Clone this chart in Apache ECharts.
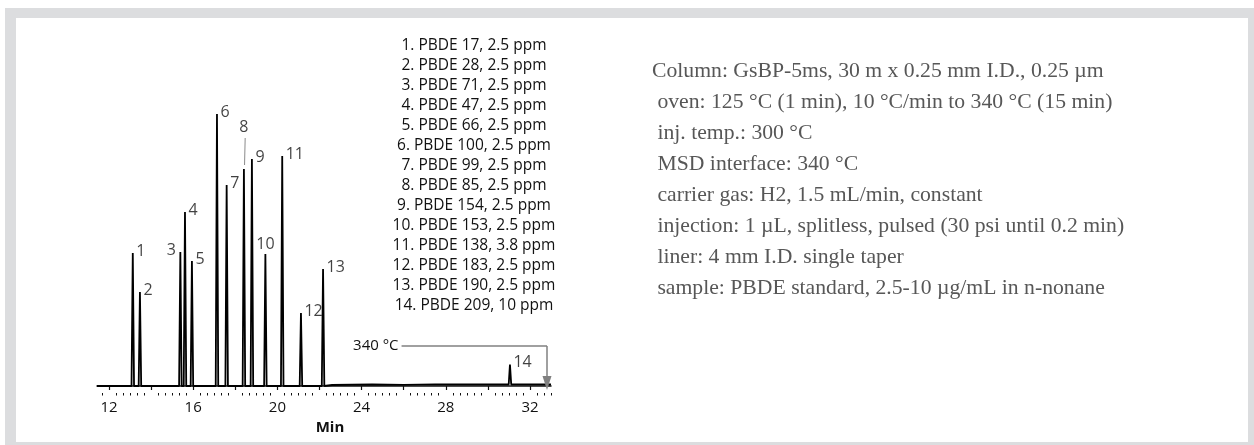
<!DOCTYPE html>
<html><head><meta charset="utf-8">
<script src="https://cdn.jsdelivr.net/npm/echarts@6/dist/echarts.min.js"></script>
<style>html,body{margin:0;padding:0;background:#fff}#c{width:1254px;height:445px}</style>
</head><body><div id="c"></div>
<script>
// ---------------- data ----------------
const peakNumbers = [1, 2, 3, 4, 5, 6, 7, 8, 9, 10, 11, 12, 13, 14];
const peakTimes = [13.13, 13.47, 15.39, 15.61, 15.94, 17.13, 17.59, 18.41, 18.79, 19.43, 20.23, 21.12, 22.17, 31.05];
const peakHeights = [133, 94, 134, 174, 125, 272, 201, 217, 227, 132, 230, 73, 117, 20];
const compounds = ['PBDE 17', 'PBDE 28', 'PBDE 71', 'PBDE 47', 'PBDE 66', 'PBDE 100', 'PBDE 99',
  'PBDE 85', 'PBDE 154', 'PBDE 153', 'PBDE 138', 'PBDE 183', 'PBDE 190', 'PBDE 209'];
const concentrations = ['2.5 ppm', '2.5 ppm', '2.5 ppm', '2.5 ppm', '2.5 ppm', '2.5 ppm', '2.5 ppm',
  '2.5 ppm', '2.5 ppm', '2.5 ppm', '3.8 ppm', '2.5 ppm', '2.5 ppm', '10 ppm'];
const baselinePoints = [[11.43, 0], [22.3, 0], [22.6, 1], [24.5, 1.5], [26.0, 1.2], [27.5, 1.6], [30.5, 1.5], [33.0, 1.5]];
const xTickValues = [12, 14, 16, 18, 20, 22, 24, 26, 28, 30, 32];
const xLabelValues = [12, 16, 20, 24, 28, 32];
const xMin = 11.43, xMax = 33.0;
const isoTempLabel = '340 °C';
const isoStart = 25.9, isoEnd = 32.81, isoLevel = 40;
const conditions = [
  'Column: GsBP-5ms, 30 m x 0.25 mm I.D., 0.25 µm',
  ' oven: 125 °C (1 min), 10 °C/min to 340 °C (15 min)',
  ' inj. temp.: 300 °C',
  ' MSD interface: 340 °C',
  ' carrier gas: H2, 1.5 mL/min, constant',
  ' injection: 1 µL, splitless, pulsed (30 psi until 0.2 min)',
  ' liner: 4 mm I.D. single taper',
  ' sample: PBDE standard, 2.5-10 µg/mL in n-nonane'
];

// ---------------- build trace ----------------
function baseAt(t) {
  let v = baselinePoints[0][1];
  for (const p of baselinePoints) { if (p[0] <= t) v = p[1]; }
  return v;
}
const halfW = 0.06;
let trace = baselinePoints.map(p => [p[0], p[1]]);
peakTimes.forEach((t, i) => {
  const b = baseAt(t);
  trace.push([t - halfW, b], [t, b + peakHeights[i]], [t + halfW, b]);
});
trace.sort((a, b) => a[0] - b[0]);

const minorTicks = [];
for (let k = Math.ceil(xMin * 3); k <= Math.floor(xMax * 3); k++) {
  if (k % 6 !== 0) minorTicks.push(k / 3);
}

const labelSpecial = {
  3: { position: 'left', distance: 4, offset: [0, -2] },
  8: { position: 'top', distance: 33 },
  10: { position: 'top', distance: 1 }
};
const labelData = peakTimes.map((t, i) => {
  const n = peakNumbers[i];
  const sp = labelSpecial[n] || { position: 'right', distance: 3, offset: [0, -2] };
  return { value: [t, baseAt(t) + peakHeights[i]], name: String(n), label: sp };
});
const i8 = peakNumbers.indexOf(8);

const legendText = peakNumbers.map((n, i) => n + '. ' + compounds[i] + ', ' + concentrations[i]).join('\n');

const FONT = '"Open Sans", "Noto Sans", sans-serif';
const INK = '#111111';

const chart = echarts.init(document.getElementById('c'), null, { renderer: 'canvas' });
chart.setOption({
  animation: false,
  backgroundColor: '#ffffff',
  graphic: [
    { type: 'rect', z: -10, silent: true, shape: { x: 5, y: 8, width: 1249, height: 437 }, style: { fill: '#dcdddf' } },
    { type: 'rect', z: -9, silent: true, shape: { x: 16, y: 18, width: 1232, height: 424 }, style: { fill: '#ffffff' } },
    { type: 'text', z: 10, style: { x: 474, y: 35.5, text: legendText, align: 'center', verticalAlign: 'top',
        fontFamily: FONT, fontSize: 15.5, lineHeight: 20, fill: INK } },
    { type: 'text', z: 10, style: { x: 652, y: 56, text: conditions.join('\n'), align: 'left', verticalAlign: 'top',
        fontFamily: '"Liberation Serif", "Times New Roman", serif', fontSize: 21.7, lineHeight: 31, fill: '#575757' } }
  ],
  grid: { left: 97, right: 703, top: 100, bottom: 52, containLabel: false },
  xAxis: [{
    type: 'value', min: xMin, max: xMax,
    name: 'Min', nameLocation: 'middle', nameGap: 21,
    nameTextStyle: { fontFamily: FONT, fontWeight: 'bold', fontSize: 15, color: INK, padding: [0, 0, 0, 12] },
    axisLine: { show: true, lineStyle: { color: INK, width: 1.5 } },
    axisTick: { show: true, inside: false, length: 4, customValues: xTickValues, lineStyle: { color: INK, width: 1.2 } },
    axisLabel: { show: true, customValues: xLabelValues, margin: 7, fontFamily: FONT, fontSize: 15, color: INK },
    splitLine: { show: false }
  }, {
    type: 'value', min: xMin, max: xMax, position: 'bottom', gridIndex: 0,
    axisLine: { show: false },
    axisTick: { show: true, inside: false, length: 2.5, customValues: minorTicks, lineStyle: { color: INK, width: 1 } },
    axisLabel: { show: false },
    splitLine: { show: false }
  }],
  yAxis: { type: 'value', min: -7, max: 286, show: false, splitLine: { show: false } },
  series: [{
    type: 'line', data: trace, showSymbol: false, symbol: 'none', silent: true,
    lineStyle: { color: '#000000', width: 1.8 },
    markLine: {
      silent: true, symbol: 'none', animation: false,
      data: [
        [{ coord: [isoStart, isoLevel], symbol: 'none',
           label: { show: true, position: 'start', formatter: isoTempLabel, distance: 3,
                    fontFamily: FONT, fontSize: 15, color: INK } },
         { coord: [isoEnd, isoLevel], symbol: 'none' }],
        [{ coord: [isoEnd, isoLevel], symbol: 'none', label: { show: false } },
         { coord: [isoEnd, 3], symbol: 'triangle', symbolSize: [9, 14] }]
      ],
      lineStyle: { color: '#808080', width: 1.5, type: 'solid' },
      itemStyle: { color: '#808080' }
    }
  }, {
    type: 'scatter', data: labelData, symbolSize: 1, silent: true,
    itemStyle: { color: 'rgba(0,0,0,0)' },
    label: { show: true, formatter: p => p.name, fontFamily: FONT, fontSize: 16, color: INK },
    markLine: {
      silent: true, symbol: 'none', animation: false,
      lineStyle: { color: '#8a8a8a', width: 1, type: 'solid' },
      label: { show: false },
      data: [[{ coord: [peakTimes[i8] + 0.03, peakHeights[i8] + 4] }, { coord: [peakTimes[i8] + 0.06, peakHeights[i8] + 31] }]]
    }
  }]
});
</script>
</body></html>
